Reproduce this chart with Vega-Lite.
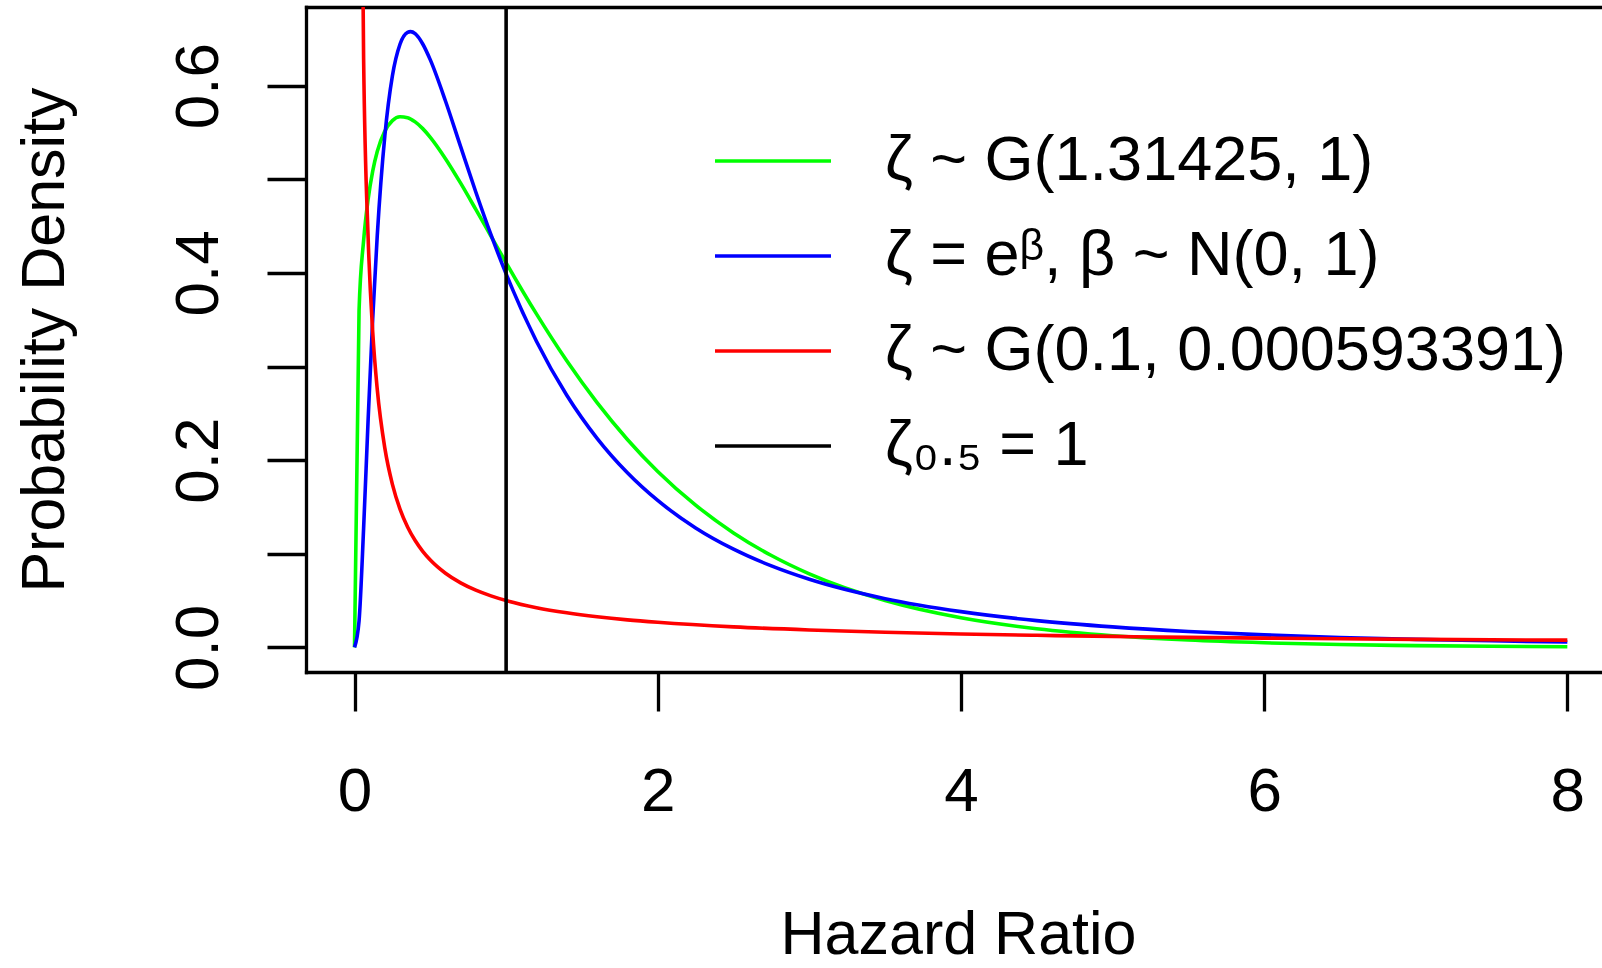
{
  "$schema": "https://vega.github.io/schema/vega-lite/v6.json",
  "width": 1296,
  "height": 665,
  "autosize": {"type": "none"},
  "padding": {"left": 306, "top": 7, "right": 0, "bottom": 296},
  "background": "white",
  "config": {
    "view": {"stroke": null},
    "font": "Liberation Sans",
    "axis": {"grid": false, "domainColor": "black", "tickColor": "black", "labelColor": "black", "titleColor": "black", "domainWidth": 3.3, "tickWidth": 3.3, "domainCap": "square"}
  },
  "datasets": {
    "curves": [
      {"series": "ζ ~ G(1.31425, 1)", "x": 0, "y": 0},
      {"series": "ζ ~ G(1.31425, 1)", "x": 0.03, "y": 0.3600},
      {"series": "ζ ~ G(1.31425, 1)", "x": 0.06, "y": 0.4345},
      {"series": "ζ ~ G(1.31425, 1)", "x": 0.09, "y": 0.4789},
      {"series": "ζ ~ G(1.31425, 1)", "x": 0.12, "y": 0.5087},
      {"series": "ζ ~ G(1.31425, 1)", "x": 0.15, "y": 0.5296},
      {"series": "ζ ~ G(1.31425, 1)", "x": 0.2, "y": 0.5514},
      {"series": "ζ ~ G(1.31425, 1)", "x": 0.25, "y": 0.5626},
      {"series": "ζ ~ G(1.31425, 1)", "x": 0.3, "y": 0.5667},
      {"series": "ζ ~ G(1.31425, 1)", "x": 0.35, "y": 0.5658},
      {"series": "ζ ~ G(1.31425, 1)", "x": 0.4, "y": 0.5613},
      {"series": "ζ ~ G(1.31425, 1)", "x": 0.45, "y": 0.5541},
      {"series": "ζ ~ G(1.31425, 1)", "x": 0.5, "y": 0.5448},
      {"series": "ζ ~ G(1.31425, 1)", "x": 0.6, "y": 0.5220},
      {"series": "ζ ~ G(1.31425, 1)", "x": 0.7, "y": 0.4958},
      {"series": "ζ ~ G(1.31425, 1)", "x": 0.8, "y": 0.4678},
      {"series": "ζ ~ G(1.31425, 1)", "x": 0.9, "y": 0.4393},
      {"series": "ζ ~ G(1.31425, 1)", "x": 1.0, "y": 0.4108},
      {"series": "ζ ~ G(1.31425, 1)", "x": 1.2, "y": 0.3562},
      {"series": "ζ ~ G(1.31425, 1)", "x": 1.4, "y": 0.3061},
      {"series": "ζ ~ G(1.31425, 1)", "x": 1.6, "y": 0.2614},
      {"series": "ζ ~ G(1.31425, 1)", "x": 1.8, "y": 0.2221},
      {"series": "ζ ~ G(1.31425, 1)", "x": 2.0, "y": 0.1879},
      {"series": "ζ ~ G(1.31425, 1)", "x": 2.25, "y": 0.1519},
      {"series": "ζ ~ G(1.31425, 1)", "x": 2.5, "y": 0.1223},
      {"series": "ζ ~ G(1.31425, 1)", "x": 2.75, "y": 0.0981},
      {"series": "ζ ~ G(1.31425, 1)", "x": 3.0, "y": 0.0785},
      {"series": "ζ ~ G(1.31425, 1)", "x": 3.5, "y": 0.0500},
      {"series": "ζ ~ G(1.31425, 1)", "x": 4.0, "y": 0.0316},
      {"series": "ζ ~ G(1.31425, 1)", "x": 4.5, "y": 0.0199},
      {"series": "ζ ~ G(1.31425, 1)", "x": 5.0, "y": 0.0125},
      {"series": "ζ ~ G(1.31425, 1)", "x": 5.5, "y": 0.0078},
      {"series": "ζ ~ G(1.31425, 1)", "x": 6.0, "y": 0.0049},
      {"series": "ζ ~ G(1.31425, 1)", "x": 6.5, "y": 0.0030},
      {"series": "ζ ~ G(1.31425, 1)", "x": 7.0, "y": 0.0019},
      {"series": "ζ ~ G(1.31425, 1)", "x": 7.5, "y": 0.0012},
      {"series": "ζ ~ G(1.31425, 1)", "x": 8.0, "y": 0.0007},
      {"series": "ζ = eᵝ, β ~ N(0, 1)", "x": 0, "y": 0},
      {"series": "ζ = eᵝ, β ~ N(0, 1)", "x": 0.03, "y": 0.0284},
      {"series": "ζ = eᵝ, β ~ N(0, 1)", "x": 0.06, "y": 0.1271},
      {"series": "ζ = eᵝ, β ~ N(0, 1)", "x": 0.09, "y": 0.2441},
      {"series": "ζ = eᵝ, β ~ N(0, 1)", "x": 0.12, "y": 0.3512},
      {"series": "ζ = eᵝ, β ~ N(0, 1)", "x": 0.15, "y": 0.4398},
      {"series": "ζ = eᵝ, β ~ N(0, 1)", "x": 0.2, "y": 0.5463},
      {"series": "ζ = eᵝ, β ~ N(0, 1)", "x": 0.25, "y": 0.6105},
      {"series": "ζ = eᵝ, β ~ N(0, 1)", "x": 0.3, "y": 0.6442},
      {"series": "ζ = eᵝ, β ~ N(0, 1)", "x": 0.35, "y": 0.6569},
      {"series": "ζ = eᵝ, β ~ N(0, 1)", "x": 0.37, "y": 0.6577},
      {"series": "ζ = eᵝ, β ~ N(0, 1)", "x": 0.4, "y": 0.6555},
      {"series": "ζ = eᵝ, β ~ N(0, 1)", "x": 0.45, "y": 0.6445},
      {"series": "ζ = eᵝ, β ~ N(0, 1)", "x": 0.5, "y": 0.6275},
      {"series": "ζ = eᵝ, β ~ N(0, 1)", "x": 0.6, "y": 0.5836},
      {"series": "ζ = eᵝ, β ~ N(0, 1)", "x": 0.7, "y": 0.5348},
      {"series": "ζ = eᵝ, β ~ N(0, 1)", "x": 0.8, "y": 0.4864},
      {"series": "ζ = eᵝ, β ~ N(0, 1)", "x": 0.9, "y": 0.4408},
      {"series": "ζ = eᵝ, β ~ N(0, 1)", "x": 1.0, "y": 0.3989},
      {"series": "ζ = eᵝ, β ~ N(0, 1)", "x": 1.2, "y": 0.3270},
      {"series": "ζ = eᵝ, β ~ N(0, 1)", "x": 1.4, "y": 0.2693},
      {"series": "ζ = eᵝ, β ~ N(0, 1)", "x": 1.6, "y": 0.2233},
      {"series": "ζ = eᵝ, β ~ N(0, 1)", "x": 1.8, "y": 0.1865},
      {"series": "ζ = eᵝ, β ~ N(0, 1)", "x": 2.0, "y": 0.1569},
      {"series": "ζ = eᵝ, β ~ N(0, 1)", "x": 2.25, "y": 0.1276},
      {"series": "ζ = eᵝ, β ~ N(0, 1)", "x": 2.5, "y": 0.1049},
      {"series": "ζ = eᵝ, β ~ N(0, 1)", "x": 2.75, "y": 0.0870},
      {"series": "ζ = eᵝ, β ~ N(0, 1)", "x": 3.0, "y": 0.0727},
      {"series": "ζ = eᵝ, β ~ N(0, 1)", "x": 3.5, "y": 0.0520},
      {"series": "ζ = eᵝ, β ~ N(0, 1)", "x": 4.0, "y": 0.0382},
      {"series": "ζ = eᵝ, β ~ N(0, 1)", "x": 4.5, "y": 0.0286},
      {"series": "ζ = eᵝ, β ~ N(0, 1)", "x": 5.0, "y": 0.0219},
      {"series": "ζ = eᵝ, β ~ N(0, 1)", "x": 5.5, "y": 0.0170},
      {"series": "ζ = eᵝ, β ~ N(0, 1)", "x": 6.0, "y": 0.0134},
      {"series": "ζ = eᵝ, β ~ N(0, 1)", "x": 6.5, "y": 0.0106},
      {"series": "ζ = eᵝ, β ~ N(0, 1)", "x": 7.0, "y": 0.0086},
      {"series": "ζ = eᵝ, β ~ N(0, 1)", "x": 7.5, "y": 0.0070},
      {"series": "ζ = eᵝ, β ~ N(0, 1)", "x": 8.0, "y": 0.0057},
      {"series": "ζ ~ G(0.1, 0.000593391)", "x": 0.03, "y": 1.1737},
      {"series": "ζ ~ G(0.1, 0.000593391)", "x": 0.06, "y": 0.6290},
      {"series": "ζ ~ G(0.1, 0.000593391)", "x": 0.09, "y": 0.4367},
      {"series": "ζ ~ G(0.1, 0.000593391)", "x": 0.12, "y": 0.3371},
      {"series": "ζ ~ G(0.1, 0.000593391)", "x": 0.15, "y": 0.2757},
      {"series": "ζ ~ G(0.1, 0.000593391)", "x": 0.2, "y": 0.2128},
      {"series": "ζ ~ G(0.1, 0.000593391)", "x": 0.25, "y": 0.1741},
      {"series": "ζ ~ G(0.1, 0.000593391)", "x": 0.3, "y": 0.1477},
      {"series": "ζ ~ G(0.1, 0.000593391)", "x": 0.35, "y": 0.1286},
      {"series": "ζ ~ G(0.1, 0.000593391)", "x": 0.4, "y": 0.1141},
      {"series": "ζ ~ G(0.1, 0.000593391)", "x": 0.45, "y": 0.1026},
      {"series": "ζ ~ G(0.1, 0.000593391)", "x": 0.5, "y": 0.0933},
      {"series": "ζ ~ G(0.1, 0.000593391)", "x": 0.6, "y": 0.0792},
      {"series": "ζ ~ G(0.1, 0.000593391)", "x": 0.7, "y": 0.0689},
      {"series": "ζ ~ G(0.1, 0.000593391)", "x": 0.8, "y": 0.0611},
      {"series": "ζ ~ G(0.1, 0.000593391)", "x": 0.9, "y": 0.0550},
      {"series": "ζ ~ G(0.1, 0.000593391)", "x": 1.0, "y": 0.0500},
      {"series": "ζ ~ G(0.1, 0.000593391)", "x": 1.2, "y": 0.0424},
      {"series": "ζ ~ G(0.1, 0.000593391)", "x": 1.4, "y": 0.0369},
      {"series": "ζ ~ G(0.1, 0.000593391)", "x": 1.6, "y": 0.0327},
      {"series": "ζ ~ G(0.1, 0.000593391)", "x": 1.8, "y": 0.0294},
      {"series": "ζ ~ G(0.1, 0.000593391)", "x": 2.0, "y": 0.0268},
      {"series": "ζ ~ G(0.1, 0.000593391)", "x": 2.5, "y": 0.0219},
      {"series": "ζ ~ G(0.1, 0.000593391)", "x": 3.0, "y": 0.0186},
      {"series": "ζ ~ G(0.1, 0.000593391)", "x": 3.5, "y": 0.0162},
      {"series": "ζ ~ G(0.1, 0.000593391)", "x": 4.0, "y": 0.0143},
      {"series": "ζ ~ G(0.1, 0.000593391)", "x": 4.5, "y": 0.0129},
      {"series": "ζ ~ G(0.1, 0.000593391)", "x": 5.0, "y": 0.0117},
      {"series": "ζ ~ G(0.1, 0.000593391)", "x": 5.5, "y": 0.0107},
      {"series": "ζ ~ G(0.1, 0.000593391)", "x": 6.0, "y": 0.0099},
      {"series": "ζ ~ G(0.1, 0.000593391)", "x": 6.5, "y": 0.0092},
      {"series": "ζ ~ G(0.1, 0.000593391)", "x": 7.0, "y": 0.0086},
      {"series": "ζ ~ G(0.1, 0.000593391)", "x": 7.5, "y": 0.0081},
      {"series": "ζ ~ G(0.1, 0.000593391)", "x": 8.0, "y": 0.0077}
    ],
    "median": [
      {"series": "ζ₀.₅ = 1", "x": 1}
    ]
  },
  "layer": [
    {
      "data": {"name": "curves"},
      "mark": {"type": "line", "strokeWidth": 3.6, "clip": true, "interpolate": "monotone"},
      "encoding": {
        "x": {
          "field": "x", "type": "quantitative",
          "scale": {"domain": [-0.32, 8.2286], "nice": false, "zero": false},
          "axis": {
            "orient": "bottom", "values": [0, 2, 4, 6, 8], "format": "d",
            "tickSize": 39, "labelPadding": 99, "labelBaseline": "alphabetic", "labelFlush": false,
            "labelFontSize": 62, "labelFont": "Liberation Sans",
            "title": "Hazard Ratio", "titleFontSize": 61, "titleFontWeight": "normal", "titleFont": "Liberation Sans",
            "titleX": 652, "titleY": 281, "titleAlign": "center", "titleBaseline": "alphabetic"
          }
        },
        "y": {
          "field": "y", "type": "quantitative",
          "scale": {"domain": [-0.0263, 0.684], "nice": false, "zero": false},
          "axis": {
            "values": [0, 0.1, 0.2, 0.3, 0.4, 0.5, 0.6],
            "labelExpr": "round(datum.value*10)%2==0 ? format(datum.value,'.1f') : ''",
            "labelAngle": 270, "labelAlign": "center", "labelBaseline": "alphabetic",
            "labelPadding": 50, "tickSize": 39, "labelOverlap": false, "labelFlush": false,
            "labelFontSize": 62, "labelFont": "Liberation Sans",
            "title": "Probability Density", "titleFontSize": 61, "titleFontWeight": "normal", "titleFont": "Liberation Sans",
            "titleAngle": 270, "titleX": -243, "titleBaseline": "alphabetic"
          }
        },
        "color": {
          "field": "series", "type": "nominal",
          "scale": {
            "domain": ["ζ ~ G(1.31425, 1)", "ζ = eᵝ, β ~ N(0, 1)", "ζ ~ G(0.1, 0.000593391)", "ζ₀.₅ = 1"],
            "range": ["#00ff00", "#0000ff", "#ff0000", "#000000"]
          },
          "legend": {
            "orient": "none", "legendX": 407, "legendY": 123, "title": null,
            "symbolType": "stroke", "symbolSize": 13456, "symbolStrokeWidth": 3.4,
            "clipHeight": 62, "rowPadding": 32, "labelOffset": 52, "symbolOffset": 0, "padding": 0,
            "labelFontSize": 63, "labelFont": "Liberation Sans", "labelColor": "black", "labelLimit": 2000,
            "labelBaseline": "middle"
          }
        }
      }
    },
    {
      "data": {"name": "median"},
      "mark": {"type": "rule", "strokeWidth": 3.6},
      "encoding": {
        "x": {
          "field": "x", "type": "quantitative",
          "scale": {"domain": [-0.32, 8.2286], "nice": false, "zero": false},
          "axis": {"orient": "top", "labels": false, "ticks": false, "domain": true, "title": null, "grid": false}
        },
        "color": {
          "field": "series", "type": "nominal",
          "scale": {
            "domain": ["ζ ~ G(1.31425, 1)", "ζ = eᵝ, β ~ N(0, 1)", "ζ ~ G(0.1, 0.000593391)", "ζ₀.₅ = 1"],
            "range": ["#00ff00", "#0000ff", "#ff0000", "#000000"]
          }
        }
      }
    }
  ],
  "resolve": {"axis": {"x": "independent"}}
}
